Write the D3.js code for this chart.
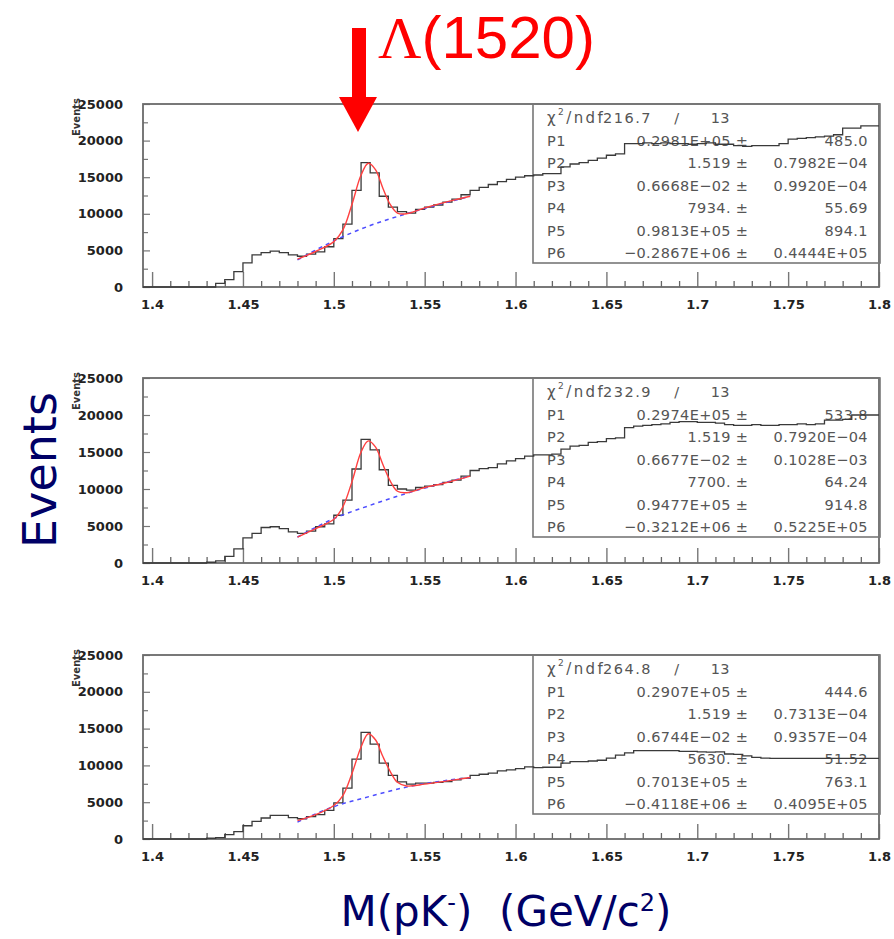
<!DOCTYPE html>
<html>
<head>
<meta charset="utf-8">
<script src="https://cdn.jsdelivr.net/npm/d3@7/dist/d3.min.js"></script>
<style>
  body { margin: 0; background: #fff; }
  svg text { font-family: "DejaVu Sans", sans-serif; }
</style>
</head>
<body>
<div id="chart"></div>
<script>
// histogram binning: 81 bins of 5 MeV starting at 1.395 GeV
const binStart = 1.395;
const binWidth = 0.005;

const counts1 = [0, 0, 0, 0, 0, 0, 0, 0, 500, 1000, 2100, 3300, 4400, 4700, 4900, 4700, 4400, 4200, 4500, 4800,
  5500, 6600, 8600, 13200, 17000, 15600, 12400, 10900, 10300, 10100, 10600, 10900, 11200, 11600, 12000, 12600,
  13200, 13600, 14000, 14400, 14700, 15000, 15200, 15300, 15500, 15500, 16400, 16800, 17000, 17300, 17600, 18000,
  18200, 19600, 19600, 19700, 19600, 19700, 19600, 19600, 19500, 19600, 19700, 19500, 19500, 19300, 19200, 19300,
  19300, 19300, 19600, 20200, 20300, 20400, 20500, 20600, 20800, 21700, 21700, 22000, 22000];

const counts2 = [0, 0, 0, 0, 0, 0, 0, 100, 300, 900, 1900, 3400, 4000, 4800, 4900, 4650, 4200, 4000, 4300, 4900,
  5300, 6450, 8500, 12700, 16700, 15300, 12600, 10500, 10000, 9850, 10200, 10400, 10600, 10900, 11200, 11750,
  12500, 12750, 12900, 13400, 13800, 14100, 14450, 14600, 14600, 14700, 15400, 15800, 15900, 16300, 16400, 16800,
  16900, 18300, 18500, 18600, 18700, 18800, 19000, 19100, 19100, 19000, 19000, 18900, 18700, 18600, 18600, 18700,
  18600, 18600, 18700, 18700, 18800, 18700, 18800, 19300, 19300, 19400, 20000, 20000, 20000];

const counts3 = [0, 0, 0, 0, 0, 0, 0, 100, 200, 600, 1000, 1800, 2400, 2850, 3200, 3200, 2900, 2750, 3050, 3300,
  3900, 4900, 6900, 10850, 14500, 12900, 10300, 8650, 7750, 7450, 7600, 7600, 7700, 7800, 8050, 8250,
  8650, 8800, 8950, 9250, 9400, 9550, 9800, 9700, 9750, 9750, 10300, 10500, 10500, 10600, 10700, 11000,
  11400, 11700, 12000, 12000, 12000, 12000, 12000, 11900, 11900, 11850, 11800, 11850, 11550, 11500, 11300, 11100,
  11000, 10950, 10950, 10950, 10950, 10950, 10950, 10950, 10950, 10950, 10950, 10950, 10950];

// fitted curve (red) and background (blue dashed)
const fitMass = [1.48, 1.49, 1.5, 1.505, 1.51, 1.515, 1.519, 1.523, 1.527, 1.531, 1.535, 1.54, 1.55, 1.56, 1.575];
const fit1 = [3800, 4850, 6200, 7800, 11300, 15300, 16900, 16000, 13500, 11300, 10100, 10000, 10800, 11500, 12400];
const fit2 = [3500, 4650, 5900, 7600, 11000, 15000, 16500, 15650, 13300, 11100, 9700, 9500, 10200, 10750, 11750];
const fit3 = [2500, 3300, 4550, 5900, 8900, 12500, 14300, 13450, 11200, 9200, 7700, 7200, 7450, 7800, 8350];

const bgMass = [1.48, 1.5, 1.52, 1.54, 1.575];
const bg1 = [3700, 6300, 8400, 10000, 12400];
const bg2 = [3500, 6000, 7800, 9400, 11750];
const bg3 = [2300, 4400, 5800, 7050, 8350];

const chi2Values = ['216.7', '232.9', '264.8'];
const ndf = '13';
const paramNames = ['P1', 'P2', 'P3', 'P4', 'P5', 'P6'];
const params1 = [['0.2981E+05', '485.0'], ['1.519', '0.7982E\u221204'], ['0.6668E\u221202', '0.9920E\u221204'],
  ['7934.', '55.69'], ['0.9813E+05', '894.1'], ['\u22120.2867E+06', '0.4444E+05']];
const params2 = [['0.2974E+05', '533.8'], ['1.519', '0.7920E\u221204'], ['0.6677E\u221202', '0.1028E\u221203'],
  ['7700.', '64.24'], ['0.9477E+05', '914.8'], ['\u22120.3212E+06', '0.5225E+05']];
const params3 = [['0.2907E+05', '444.6'], ['1.519', '0.7313E\u221204'], ['0.6744E\u221202', '0.9357E\u221204'],
  ['5630.', '51.52'], ['0.7013E+05', '763.1'], ['\u22120.4118E+06', '0.4095E+05']];

const xTicks = [1.4, 1.45, 1.5, 1.55, 1.6, 1.65, 1.7, 1.75, 1.8];
const yTicks = [0, 5000, 10000, 15000, 20000, 25000];

const W = 894, H = 939;
const svg = d3.select('#chart').append('svg')
  .attr('width', W)
  .attr('height', H)
  .attr('viewBox', `0,0,${W},${H}`);

const x = d3.scaleLinear().domain([1.395, 1.8]).range([143, 879]);

const panels = [
  {top: 104, bottom: 287, counts: counts1, fit: fit1, bg: bg1, chi2: chi2Values[0], params: params1},
  {top: 378, bottom: 563, counts: counts2, fit: fit2, bg: bg2, chi2: chi2Values[1], params: params2},
  {top: 655, bottom: 839, counts: counts3, fit: fit3, bg: bg3, chi2: chi2Values[2], params: params3}
];

const serifLabel = g => g.selectAll('text')
  .attr('font-family', '"DejaVu Serif", serif')
  .attr('font-weight', 'bold')
  .attr('font-size', 13)
  .attr('fill', '#222');

panels.forEach(p => {
  const y = d3.scaleLinear().domain([0, 25000]).range([p.bottom, p.top]);
  const g = svg.append('g');

  // tiny rotated axis title, mostly hidden behind the tick labels
  g.append('text')
    .attr('transform', `translate(80,${p.top - 6}) rotate(-90)`)
    .attr('text-anchor', 'end')
    .attr('font-family', '"DejaVu Serif", serif')
    .attr('font-weight', 'bold')
    .attr('font-size', 10)
    .attr('fill', '#333')
    .text('Events');

  // minor x ticks
  const minor = d3.range(140, 181).map(v => v / 100).filter(v => Math.round(v * 100) % 5 !== 0);
  g.append('g')
    .attr('transform', `translate(0,${p.bottom})`)
    .call(d3.axisBottom(x).tickValues(minor).tickSize(-6).tickFormat(''))
    .call(a => a.select('.domain').remove())
    .call(a => a.selectAll('line').attr('stroke', '#666').attr('stroke-width', 1.3));

  g.append('g')
    .attr('transform', `translate(0,${p.bottom})`)
    .call(d3.axisBottom(x).tickValues(xTicks).tickSize(-15).tickPadding(13)
      .tickFormat(d => d3.format('.2~f')(d)))
    .call(a => a.select('.domain').remove())
    .call(a => a.selectAll('line').attr('stroke', '#777').attr('stroke-width', 1.4))
    .call(serifLabel);

  // y ticks every 2500, labels every 5000
  g.append('g')
    .attr('transform', `translate(143,0)`)
    .call(d3.axisLeft(y).tickValues(d3.range(2500, 25000, 5000)).tickSize(-5).tickFormat(''))
    .call(a => a.select('.domain').remove())
    .call(a => a.selectAll('line').attr('stroke', '#777').attr('stroke-width', 1.2));

  g.append('g')
    .attr('transform', `translate(143,0)`)
    .call(d3.axisLeft(y).tickValues(yTicks).tickSize(-7).tickPadding(20).tickFormat(d => d))
    .call(a => a.select('.domain').remove())
    .call(a => a.selectAll('line').attr('stroke', '#777').attr('stroke-width', 1.2))
    .call(serifLabel);

  // frame
  g.append('rect')
    .attr('x', x.range()[0]).attr('y', p.top)
    .attr('width', x.range()[1] - x.range()[0]).attr('height', p.bottom - p.top)
    .attr('fill', 'none').attr('stroke', '#6a6a6a').attr('stroke-width', 1.8);

  // stats box
  const bx = 533, bw = 880 - 533, bh = 159;
  g.append('rect')
    .attr('x', bx).attr('y', p.top).attr('width', bw).attr('height', bh)
    .attr('fill', 'none').attr('stroke', '#777').attr('stroke-width', 1.6);

  const rowY = i => p.top + 14 + i * 22.5;
  const st = g.append('g')
    .attr('font-size', 14.5)
    .attr('fill', '#555')
    .attr('letter-spacing', 0.4)
    .attr('dominant-baseline', 'central');

  const chiRow = st.append('text').attr('x', 547).attr('y', rowY(0)).attr('font-size', 15).attr('letter-spacing', 2.4);
  chiRow.append('tspan').text('\u03c7');
  chiRow.append('tspan').attr('font-size', 9).attr('dy', -6).text('2');
  chiRow.append('tspan').attr('dy', 6).text('/ndf');
  st.append('text').attr('x', 652).attr('y', rowY(0)).attr('text-anchor', 'end').attr('letter-spacing', 1.5).text(p.chi2);
  st.append('text').attr('x', 677).attr('y', rowY(0)).attr('text-anchor', 'middle').text('/');
  st.append('text').attr('x', 730).attr('y', rowY(0)).attr('text-anchor', 'end').text(ndf);

  p.params.forEach((pr, i) => {
    st.append('text').attr('x', 547).attr('y', rowY(i + 1)).text(paramNames[i]);
    st.append('text').attr('x', 731).attr('y', rowY(i + 1)).attr('text-anchor', 'end').text(pr[0]);
    st.append('text').attr('x', 742).attr('y', rowY(i + 1)).attr('text-anchor', 'middle').text('\u00b1');
    st.append('text').attr('x', 868).attr('y', rowY(i + 1)).attr('text-anchor', 'end').text(pr[1]);
  });

  // histogram as steps
  const steps = p.counts.map((c, i) => [binStart + i * binWidth, c]);
  steps.push([binStart + p.counts.length * binWidth, p.counts[p.counts.length - 1]]);
  g.append('path')
    .datum(steps)
    .attr('fill', 'none')
    .attr('stroke', '#3a3a3a')
    .attr('stroke-width', 1.3)
    .attr('d', d3.line().x(d => Math.min(x(d[0]), 879)).y(d => y(d[1])).curve(d3.curveStepAfter));

  // background (blue dashed)
  g.append('path')
    .datum(bgMass.map((m, i) => [m, p.bg[i]]))
    .attr('fill', 'none')
    .attr('stroke', '#4d4dff')
    .attr('stroke-width', 1.5)
    .attr('stroke-dasharray', '4,4')
    .attr('d', d3.line().x(d => x(d[0])).y(d => y(d[1])).curve(d3.curveMonotoneX));

  // total fit (red)
  g.append('path')
    .datum(fitMass.map((m, i) => [m, p.fit[i]]))
    .attr('fill', 'none')
    .attr('stroke', '#ff4040')
    .attr('stroke-width', 1.4)
    .attr('d', d3.line().x(d => x(d[0])).y(d => y(d[1])).curve(d3.curveCatmullRom));
});

// annotation arrow and label
svg.append('rect').attr('x', 352).attr('y', 28).attr('width', 14).attr('height', 70).attr('fill', '#ff0000');
svg.append('path').attr('d', 'M339,97 L377,97 L358,132 Z').attr('fill', '#ff0000');

const ann = svg.append('text').attr('x', 378).attr('y', 58).attr('fill', '#ff0000').attr('font-size', 60);
ann.append('tspan').attr('font-family', '"Liberation Serif", serif').text('\u039b');
ann.append('tspan').attr('font-family', '"Liberation Sans", sans-serif').text('(1520)');

// axis titles
svg.append('text')
  .attr('transform', 'translate(56,470) rotate(-90)')
  .attr('text-anchor', 'middle')
  .attr('font-family', '"Liberation Sans", sans-serif')
  .attr('font-size', 46)
  .attr('fill', '#000066')
  .text('Events');

const xt = svg.append('text')
  .attr('x', 506).attr('y', 926)
  .attr('text-anchor', 'middle')
  .attr('font-family', '"Liberation Sans", sans-serif')
  .attr('font-size', 42)
  .attr('fill', '#000066');
xt.append('tspan').text('M(pK');
xt.append('tspan').attr('font-size', 24).attr('dy', -15).text('-');
xt.append('tspan').attr('dy', 15).text(')\u00a0 (GeV/c');
xt.append('tspan').attr('font-size', 24).attr('dy', -15).text('2');
xt.append('tspan').attr('dy', 15).text(')');
</script>
</body>
</html>
